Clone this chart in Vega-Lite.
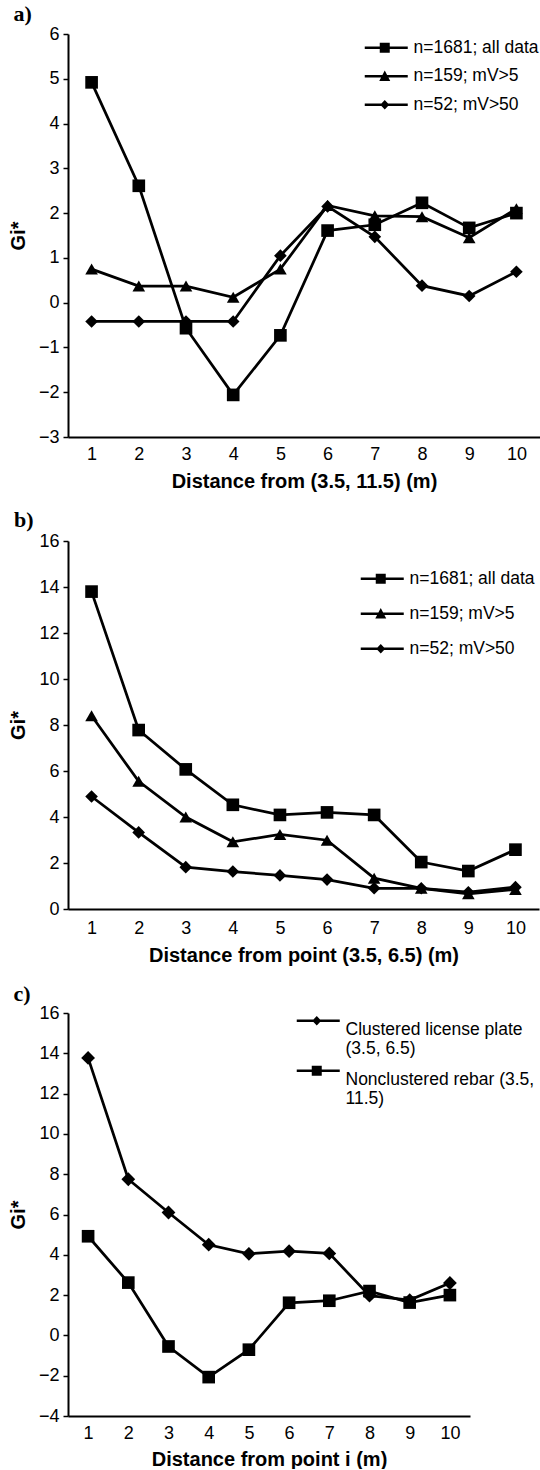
{
  "$schema": "https://vega.github.io/schema/vega-lite/v6.json",
  "padding": {"left": 8, "top": 3, "right": 0, "bottom": 0},
  "spacing": 18,
  "config": {
    "font": "Liberation Sans",
    "view": {"stroke": null},
    "axis": {"domainColor": "black", "domainWidth": 2, "tickColor": "black", "tickWidth": 1.5, "labelColor": "black", "titleColor": "black", "grid": false, "labelFont": "Liberation Sans", "titleFont": "Liberation Sans", "labelFontSize": 18, "titleFontSize": 20, "titleFontWeight": "bold", "labelFlush": false, "labelOverlap": false},
    "legend": {"labelFontSize": 17.5, "labelColor": "black", "labelFont": "Liberation Sans", "padding": 0, "labelOffset": 2, "symbolOpacity": 1, "symbolSize": 100, "labelLimit": 300},
    "title": {"font": "Liberation Serif", "fontSize": 22, "fontWeight": "bold", "anchor": "start", "color": "black", "frame": "bounds", "dx": 5}
  },
  "datasets": {
    "a": [
      {"distance": 1, "gi": 4.92, "series": "n=1681; all data"},
      {"distance": 2, "gi": 2.61, "series": "n=1681; all data"},
      {"distance": 3, "gi": -0.57, "series": "n=1681; all data"},
      {"distance": 4, "gi": -2.06, "series": "n=1681; all data"},
      {"distance": 5, "gi": -0.73, "series": "n=1681; all data"},
      {"distance": 6, "gi": 1.61, "series": "n=1681; all data"},
      {"distance": 7, "gi": 1.74, "series": "n=1681; all data"},
      {"distance": 8, "gi": 2.23, "series": "n=1681; all data"},
      {"distance": 9, "gi": 1.67, "series": "n=1681; all data"},
      {"distance": 10, "gi": 2.0, "series": "n=1681; all data"},
      {"distance": 1, "gi": 0.75, "series": "n=159; mV>5"},
      {"distance": 2, "gi": 0.37, "series": "n=159; mV>5"},
      {"distance": 3, "gi": 0.37, "series": "n=159; mV>5"},
      {"distance": 4, "gi": 0.12, "series": "n=159; mV>5"},
      {"distance": 5, "gi": 0.75, "series": "n=159; mV>5"},
      {"distance": 6, "gi": 2.17, "series": "n=159; mV>5"},
      {"distance": 7, "gi": 1.94, "series": "n=159; mV>5"},
      {"distance": 8, "gi": 1.92, "series": "n=159; mV>5"},
      {"distance": 9, "gi": 1.45, "series": "n=159; mV>5"},
      {"distance": 10, "gi": 2.1, "series": "n=159; mV>5"},
      {"distance": 1, "gi": -0.42, "series": "n=52; mV>50"},
      {"distance": 2, "gi": -0.42, "series": "n=52; mV>50"},
      {"distance": 3, "gi": -0.42, "series": "n=52; mV>50"},
      {"distance": 4, "gi": -0.42, "series": "n=52; mV>50"},
      {"distance": 5, "gi": 1.05, "series": "n=52; mV>50"},
      {"distance": 6, "gi": 2.15, "series": "n=52; mV>50"},
      {"distance": 7, "gi": 1.47, "series": "n=52; mV>50"},
      {"distance": 8, "gi": 0.38, "series": "n=52; mV>50"},
      {"distance": 9, "gi": 0.15, "series": "n=52; mV>50"},
      {"distance": 10, "gi": 0.69, "series": "n=52; mV>50"}
    ],
    "b": [
      {"distance": 1, "gi": 13.8, "series": "n=1681; all data"},
      {"distance": 2, "gi": 7.78, "series": "n=1681; all data"},
      {"distance": 3, "gi": 6.07, "series": "n=1681; all data"},
      {"distance": 4, "gi": 4.53, "series": "n=1681; all data"},
      {"distance": 5, "gi": 4.09, "series": "n=1681; all data"},
      {"distance": 6, "gi": 4.2, "series": "n=1681; all data"},
      {"distance": 7, "gi": 4.09, "series": "n=1681; all data"},
      {"distance": 8, "gi": 2.04, "series": "n=1681; all data"},
      {"distance": 9, "gi": 1.65, "series": "n=1681; all data"},
      {"distance": 10, "gi": 2.58, "series": "n=1681; all data"},
      {"distance": 1, "gi": 8.4, "series": "n=159; mV>5"},
      {"distance": 2, "gi": 5.55, "series": "n=159; mV>5"},
      {"distance": 3, "gi": 4.0, "series": "n=159; mV>5"},
      {"distance": 4, "gi": 2.92, "series": "n=159; mV>5"},
      {"distance": 5, "gi": 3.24, "series": "n=159; mV>5"},
      {"distance": 6, "gi": 2.99, "series": "n=159; mV>5"},
      {"distance": 7, "gi": 1.34, "series": "n=159; mV>5"},
      {"distance": 8, "gi": 0.9, "series": "n=159; mV>5"},
      {"distance": 9, "gi": 0.66, "series": "n=159; mV>5"},
      {"distance": 10, "gi": 0.85, "series": "n=159; mV>5"},
      {"distance": 1, "gi": 4.89, "series": "n=52; mV>50"},
      {"distance": 2, "gi": 3.33, "series": "n=52; mV>50"},
      {"distance": 3, "gi": 1.82, "series": "n=52; mV>50"},
      {"distance": 4, "gi": 1.63, "series": "n=52; mV>50"},
      {"distance": 5, "gi": 1.46, "series": "n=52; mV>50"},
      {"distance": 6, "gi": 1.28, "series": "n=52; mV>50"},
      {"distance": 7, "gi": 0.9, "series": "n=52; mV>50"},
      {"distance": 8, "gi": 0.9, "series": "n=52; mV>50"},
      {"distance": 9, "gi": 0.73, "series": "n=52; mV>50"},
      {"distance": 10, "gi": 0.95, "series": "n=52; mV>50"}
    ],
    "c": [
      {"distance": 1, "gi": 13.77, "series": "Clustered license plate (3.5, 6.5)"},
      {"distance": 2, "gi": 7.75, "series": "Clustered license plate (3.5, 6.5)"},
      {"distance": 3, "gi": 6.1, "series": "Clustered license plate (3.5, 6.5)"},
      {"distance": 4, "gi": 4.5, "series": "Clustered license plate (3.5, 6.5)"},
      {"distance": 5, "gi": 4.05, "series": "Clustered license plate (3.5, 6.5)"},
      {"distance": 6, "gi": 4.18, "series": "Clustered license plate (3.5, 6.5)"},
      {"distance": 7, "gi": 4.07, "series": "Clustered license plate (3.5, 6.5)"},
      {"distance": 8, "gi": 1.97, "series": "Clustered license plate (3.5, 6.5)"},
      {"distance": 9, "gi": 1.75, "series": "Clustered license plate (3.5, 6.5)"},
      {"distance": 10, "gi": 2.6, "series": "Clustered license plate (3.5, 6.5)"},
      {"distance": 1, "gi": 4.92, "series": "Nonclustered rebar (3.5, 11.5)"},
      {"distance": 2, "gi": 2.62, "series": "Nonclustered rebar (3.5, 11.5)"},
      {"distance": 3, "gi": -0.55, "series": "Nonclustered rebar (3.5, 11.5)"},
      {"distance": 4, "gi": -2.07, "series": "Nonclustered rebar (3.5, 11.5)"},
      {"distance": 5, "gi": -0.71, "series": "Nonclustered rebar (3.5, 11.5)"},
      {"distance": 6, "gi": 1.62, "series": "Nonclustered rebar (3.5, 11.5)"},
      {"distance": 7, "gi": 1.72, "series": "Nonclustered rebar (3.5, 11.5)"},
      {"distance": 8, "gi": 2.2, "series": "Nonclustered rebar (3.5, 11.5)"},
      {"distance": 9, "gi": 1.63, "series": "Nonclustered rebar (3.5, 11.5)"},
      {"distance": 10, "gi": 2.0, "series": "Nonclustered rebar (3.5, 11.5)"}
    ]
  },
  "vconcat": [
    {
      "title": {"text": "a)", "offset": -1},
      "width": 472,
      "height": 403,
      "data": {"name": "a"},
      "encoding": {
        "x": {"field": "distance", "type": "quantitative", "scale": {"domain": [0.5, 10.5], "nice": false, "zero": false}, "axis": {"values": [1, 2, 3, 4, 5, 6, 7, 8, 9, 10], "ticks": false, "title": "Distance from (3.5, 11.5) (m)", "labelPadding": 8, "titlePadding": 8}},
        "y": {"field": "gi", "type": "quantitative", "scale": {"domain": [-3, 6], "nice": false, "zero": false}, "axis": {"values": [-3, -2, -1, 0, 1, 2, 3, 4, 5, 6], "tickSize": 5, "title": "Gi*", "labelPadding": 4, "titlePadding": 10}}
      },
      "layer": [
        {"mark": {"type": "line", "color": "black", "strokeWidth": 2.75}, "encoding": {"detail": {"field": "series"}}},
        {"mark": {"type": "point", "filled": true, "color": "black", "opacity": 1, "size": 160}, "encoding": {"shape": {"field": "series", "scale": {"domain": ["n=1681; all data", "n=159; mV>5", "n=52; mV>50"], "range": ["square", "triangle-up", "diamond"]}, "legend": null}}},
        {"mark": {"type": "point", "filled": true, "color": "black", "opacity": 0, "size": 100}, "encoding": {"shape": {"field": "series", "scale": {"domain": ["n=1681; all data", "n=159; mV>5", "n=52; mV>50"], "range": ["M-7.6,-0.27H1V0.27H-7.6Z M-4.6,-1H-2.6V1H-4.6Z", "M-7.6,-0.27H1V0.27H-7.6Z M-3.6,-1.15L-2.5,0.95H-4.7Z", "M-7.6,-0.27H1V0.27H-7.6Z M-3.6,-0.95L-2.7,0L-3.6,0.95L-4.5,0Z"]}, "legend": {"title": null, "orient": "none", "legendX": 326, "legendY": 5, "rowPadding": 9.5}}}}
      ],
      "resolve": {"scale": {"shape": "independent"}}
    },
    {
      "title": {"text": "b)", "offset": 0},
      "width": 471,
      "height": 368,
      "data": {"name": "b"},
      "encoding": {
        "x": {"field": "distance", "type": "quantitative", "scale": {"domain": [0.5, 10.5], "nice": false, "zero": false}, "axis": {"values": [1, 2, 3, 4, 5, 6, 7, 8, 9, 10], "ticks": false, "title": "Distance from point (3.5, 6.5) (m)", "labelPadding": 10, "titlePadding": 8}},
        "y": {"field": "gi", "type": "quantitative", "scale": {"domain": [0, 16], "nice": false, "zero": false}, "axis": {"values": [0, 2, 4, 6, 8, 10, 12, 14, 16], "tickSize": 5, "title": "Gi*", "labelPadding": 4, "titlePadding": 10}}
      },
      "layer": [
        {"mark": {"type": "line", "color": "black", "strokeWidth": 2.75}, "encoding": {"detail": {"field": "series"}}},
        {"mark": {"type": "point", "filled": true, "color": "black", "opacity": 1, "size": 160}, "encoding": {"shape": {"field": "series", "scale": {"domain": ["n=1681; all data", "n=159; mV>5", "n=52; mV>50"], "range": ["square", "triangle-up", "diamond"]}, "legend": null}}},
        {"mark": {"type": "point", "filled": true, "color": "black", "opacity": 0, "size": 100}, "encoding": {"shape": {"field": "series", "scale": {"domain": ["n=1681; all data", "n=159; mV>5", "n=52; mV>50"], "range": ["M-7.6,-0.27H1V0.27H-7.6Z M-4.6,-1H-2.6V1H-4.6Z", "M-7.6,-0.27H1V0.27H-7.6Z M-3.6,-1.15L-2.5,0.95H-4.7Z", "M-7.6,-0.27H1V0.27H-7.6Z M-3.6,-0.95L-2.7,0L-3.6,0.95L-4.5,0Z"]}, "legend": {"title": null, "orient": "none", "legendX": 322, "legendY": 29, "rowPadding": 16}}}}
      ],
      "resolve": {"scale": {"shape": "independent"}}
    },
    {
      "title": {"text": "c)", "offset": -2},
      "width": 402,
      "height": 403,
      "data": {"name": "c"},
      "encoding": {
        "x": {"field": "distance", "type": "quantitative", "scale": {"domain": [0.5, 10.5], "nice": false, "zero": false}, "axis": {"values": [1, 2, 3, 4, 5, 6, 7, 8, 9, 10], "ticks": false, "title": "Distance from point i (m)", "labelPadding": 8, "titlePadding": 7}},
        "y": {"field": "gi", "type": "quantitative", "scale": {"domain": [-4, 16], "nice": false, "zero": false}, "axis": {"values": [-4, -2, 0, 2, 4, 6, 8, 10, 12, 14, 16], "tickSize": 5, "title": "Gi*", "labelPadding": 4, "titlePadding": 10}}
      },
      "layer": [
        {"mark": {"type": "line", "color": "black", "strokeWidth": 2.75}, "encoding": {"detail": {"field": "series"}}},
        {"mark": {"type": "point", "filled": true, "color": "black", "opacity": 1}, "encoding": {"shape": {"field": "series", "scale": {"domain": ["Clustered license plate (3.5, 6.5)", "Nonclustered rebar (3.5, 11.5)"], "range": ["diamond", "square"]}, "legend": null}, "size": {"field": "series", "scale": {"domain": ["Clustered license plate (3.5, 6.5)", "Nonclustered rebar (3.5, 11.5)"], "range": [190, 160]}, "legend": null}}},
        {"mark": {"type": "point", "filled": true, "color": "black", "opacity": 0, "size": 100}, "encoding": {"shape": {"field": "series", "scale": {"domain": ["Clustered license plate (3.5, 6.5)", "Nonclustered rebar (3.5, 11.5)"], "range": ["M-7.6,-0.27H1V0.27H-7.6Z M-3.6,-0.95L-2.7,0L-3.6,0.95L-4.5,0Z", "M-7.6,-0.27H1V0.27H-7.6Z M-4.6,-1H-2.6V1H-4.6Z"]}, "legend": {"title": null, "orient": "none", "legendX": 258, "legendY": -1, "rowPadding": 4, "labelBaseline": "top", "labelExpr": "datum.label == 'Nonclustered rebar (3.5, 11.5)' ? ['Nonclustered rebar (3.5,', '11.5)'] : ['Clustered license plate', '(3.5, 6.5)']", "encode": {"labels": {"update": {"lineHeight": {"value": 22}, "dy": {"value": -7}}}}}}}}
      ],
      "resolve": {"scale": {"shape": "independent", "size": "independent"}}
    }
  ]
}
